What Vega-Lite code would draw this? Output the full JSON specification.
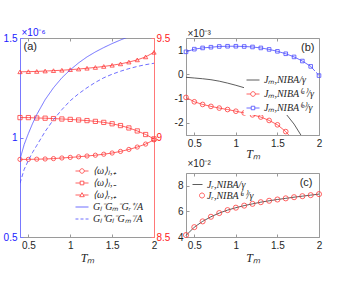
{
  "$schema": "https://vega.github.io/schema/vega-lite/v6.json",
  "padding": {"left": 2, "top": 26, "right": 2, "bottom": 2},
  "background": "white",
  "config": {
    "font": "Liberation Sans",
    "view": {"stroke": "#9a9a9a", "strokeWidth": 1},
    "axis": {"grid": false, "domainColor": "#9a9a9a", "domainWidth": 1, "tickColor": "#9a9a9a", "tickSize": -3, "tickWidth": 1,
      "labelColor": "#262626", "labelFont": "Liberation Sans", "labelFontSize": 10, "labelPadding": 6, "labelFlush": false,
      "titleFont": "Liberation Serif", "titleFontStyle": "italic", "titleFontWeight": "normal", "titleFontSize": 12, "titleColor": "#262626", "titlePadding": 2},
    "legend": {"labelFont": "Liberation Serif", "labelFontStyle": "italic", "labelFontSize": 10, "labelColor": "#262626", "padding": 0, "labelOffset": 4}
  },
  "datasets": {
    "aRed": [
      {"T":0.4,"v":8.890,"s":"⟨ω⟩ₗ,₊"},{"T":0.5,"v":8.890,"s":"⟨ω⟩ₗ,₊"},{"T":0.6,"v":8.891,"s":"⟨ω⟩ₗ,₊"},{"T":0.7,"v":8.892,"s":"⟨ω⟩ₗ,₊"},{"T":0.8,"v":8.894,"s":"⟨ω⟩ₗ,₊"},{"T":0.9,"v":8.897,"s":"⟨ω⟩ₗ,₊"},{"T":1.0,"v":8.900,"s":"⟨ω⟩ₗ,₊"},{"T":1.1,"v":8.903,"s":"⟨ω⟩ₗ,₊"},{"T":1.2,"v":8.907,"s":"⟨ω⟩ₗ,₊"},{"T":1.3,"v":8.911,"s":"⟨ω⟩ₗ,₊"},{"T":1.4,"v":8.916,"s":"⟨ω⟩ₗ,₊"},{"T":1.5,"v":8.922,"s":"⟨ω⟩ₗ,₊"},{"T":1.6,"v":8.930,"s":"⟨ω⟩ₗ,₊"},{"T":1.7,"v":8.940,"s":"⟨ω⟩ₗ,₊"},{"T":1.8,"v":8.952,"s":"⟨ω⟩ₗ,₊"},{"T":1.9,"v":8.967,"s":"⟨ω⟩ₗ,₊"},{"T":2.0,"v":8.988,"s":"⟨ω⟩ₗ,₊"},
      {"T":0.4,"v":9.100,"s":"⟨ω⟩ₗ,₋"},{"T":0.5,"v":9.100,"s":"⟨ω⟩ₗ,₋"},{"T":0.6,"v":9.098,"s":"⟨ω⟩ₗ,₋"},{"T":0.7,"v":9.097,"s":"⟨ω⟩ₗ,₋"},{"T":0.8,"v":9.095,"s":"⟨ω⟩ₗ,₋"},{"T":0.9,"v":9.093,"s":"⟨ω⟩ₗ,₋"},{"T":1.0,"v":9.091,"s":"⟨ω⟩ₗ,₋"},{"T":1.1,"v":9.088,"s":"⟨ω⟩ₗ,₋"},{"T":1.2,"v":9.085,"s":"⟨ω⟩ₗ,₋"},{"T":1.3,"v":9.081,"s":"⟨ω⟩ₗ,₋"},{"T":1.4,"v":9.076,"s":"⟨ω⟩ₗ,₋"},{"T":1.5,"v":9.069,"s":"⟨ω⟩ₗ,₋"},{"T":1.6,"v":9.060,"s":"⟨ω⟩ₗ,₋"},{"T":1.7,"v":9.048,"s":"⟨ω⟩ₗ,₋"},{"T":1.8,"v":9.033,"s":"⟨ω⟩ₗ,₋"},{"T":1.9,"v":9.015,"s":"⟨ω⟩ₗ,₋"},{"T":2.0,"v":8.993,"s":"⟨ω⟩ₗ,₋"},
      {"T":0.4,"v":9.330,"s":"⟨ω⟩ᵣ,₊"},{"T":0.5,"v":9.331,"s":"⟨ω⟩ᵣ,₊"},{"T":0.6,"v":9.332,"s":"⟨ω⟩ᵣ,₊"},{"T":0.7,"v":9.334,"s":"⟨ω⟩ᵣ,₊"},{"T":0.8,"v":9.336,"s":"⟨ω⟩ᵣ,₊"},{"T":0.9,"v":9.338,"s":"⟨ω⟩ᵣ,₊"},{"T":1.0,"v":9.341,"s":"⟨ω⟩ᵣ,₊"},{"T":1.1,"v":9.344,"s":"⟨ω⟩ᵣ,₊"},{"T":1.2,"v":9.348,"s":"⟨ω⟩ᵣ,₊"},{"T":1.3,"v":9.352,"s":"⟨ω⟩ᵣ,₊"},{"T":1.4,"v":9.357,"s":"⟨ω⟩ᵣ,₊"},{"T":1.5,"v":9.363,"s":"⟨ω⟩ᵣ,₊"},{"T":1.6,"v":9.370,"s":"⟨ω⟩ᵣ,₊"},{"T":1.7,"v":9.379,"s":"⟨ω⟩ᵣ,₊"},{"T":1.8,"v":9.390,"s":"⟨ω⟩ᵣ,₊"},{"T":1.9,"v":9.405,"s":"⟨ω⟩ᵣ,₊"},{"T":2.0,"v":9.428,"s":"⟨ω⟩ᵣ,₊"}
    ],
    "aBlue": [
      {"T":0.4,"v":0.89,"s":"Gₗ⁻Gₘ⁻Gᵣ⁺/A"},{"T":0.45,"v":0.965,"s":"Gₗ⁻Gₘ⁻Gᵣ⁺/A"},{"T":0.5,"v":1.02,"s":"Gₗ⁻Gₘ⁻Gᵣ⁺/A"},{"T":0.55,"v":1.07,"s":"Gₗ⁻Gₘ⁻Gᵣ⁺/A"},{"T":0.6,"v":1.115,"s":"Gₗ⁻Gₘ⁻Gᵣ⁺/A"},{"T":0.7,"v":1.19,"s":"Gₗ⁻Gₘ⁻Gᵣ⁺/A"},{"T":0.8,"v":1.25,"s":"Gₗ⁻Gₘ⁻Gᵣ⁺/A"},{"T":0.9,"v":1.30,"s":"Gₗ⁻Gₘ⁻Gᵣ⁺/A"},{"T":1.0,"v":1.34,"s":"Gₗ⁻Gₘ⁻Gᵣ⁺/A"},{"T":1.1,"v":1.375,"s":"Gₗ⁻Gₘ⁻Gᵣ⁺/A"},{"T":1.2,"v":1.405,"s":"Gₗ⁻Gₘ⁻Gᵣ⁺/A"},{"T":1.3,"v":1.43,"s":"Gₗ⁻Gₘ⁻Gᵣ⁺/A"},{"T":1.4,"v":1.452,"s":"Gₗ⁻Gₘ⁻Gᵣ⁺/A"},{"T":1.5,"v":1.472,"s":"Gₗ⁻Gₘ⁻Gᵣ⁺/A"},{"T":1.6,"v":1.49,"s":"Gₗ⁻Gₘ⁻Gᵣ⁺/A"},{"T":1.7,"v":1.507,"s":"Gₗ⁻Gₘ⁻Gᵣ⁺/A"},{"T":1.8,"v":1.522,"s":"Gₗ⁻Gₘ⁻Gᵣ⁺/A"},{"T":1.9,"v":1.536,"s":"Gₗ⁻Gₘ⁻Gᵣ⁺/A"},{"T":2.0,"v":1.548,"s":"Gₗ⁻Gₘ⁻Gᵣ⁺/A"},
      {"T":0.4,"v":0.77,"s":"Gₗ⁺Gₗ⁻Gₘ⁻/A"},{"T":0.45,"v":0.84,"s":"Gₗ⁺Gₗ⁻Gₘ⁻/A"},{"T":0.5,"v":0.885,"s":"Gₗ⁺Gₗ⁻Gₘ⁻/A"},{"T":0.55,"v":0.925,"s":"Gₗ⁺Gₗ⁻Gₘ⁻/A"},{"T":0.6,"v":0.96,"s":"Gₗ⁺Gₗ⁻Gₘ⁻/A"},{"T":0.7,"v":1.03,"s":"Gₗ⁺Gₗ⁻Gₘ⁻/A"},{"T":0.8,"v":1.09,"s":"Gₗ⁺Gₗ⁻Gₘ⁻/A"},{"T":0.9,"v":1.14,"s":"Gₗ⁺Gₗ⁻Gₘ⁻/A"},{"T":1.0,"v":1.185,"s":"Gₗ⁺Gₗ⁻Gₘ⁻/A"},{"T":1.1,"v":1.22,"s":"Gₗ⁺Gₗ⁻Gₘ⁻/A"},{"T":1.2,"v":1.25,"s":"Gₗ⁺Gₗ⁻Gₘ⁻/A"},{"T":1.3,"v":1.277,"s":"Gₗ⁺Gₗ⁻Gₘ⁻/A"},{"T":1.4,"v":1.30,"s":"Gₗ⁺Gₗ⁻Gₘ⁻/A"},{"T":1.5,"v":1.318,"s":"Gₗ⁺Gₗ⁻Gₘ⁻/A"},{"T":1.6,"v":1.333,"s":"Gₗ⁺Gₗ⁻Gₘ⁻/A"},{"T":1.7,"v":1.346,"s":"Gₗ⁺Gₗ⁻Gₘ⁻/A"},{"T":1.8,"v":1.357,"s":"Gₗ⁺Gₗ⁻Gₘ⁻/A"},{"T":1.9,"v":1.366,"s":"Gₗ⁺Gₗ⁻Gₘ⁻/A"},{"T":2.0,"v":1.373,"s":"Gₗ⁺Gₗ⁻Gₘ⁻/A"}
    ],
    "b": [
      {"T":0.4,"v":-0.12,"s":"Jₘ,NIBA/γ"},{"T":0.5,"v":-0.15,"s":"Jₘ,NIBA/γ"},{"T":0.6,"v":-0.18,"s":"Jₘ,NIBA/γ"},{"T":0.7,"v":-0.22,"s":"Jₘ,NIBA/γ"},{"T":0.8,"v":-0.28,"s":"Jₘ,NIBA/γ"},{"T":0.9,"v":-0.36,"s":"Jₘ,NIBA/γ"},{"T":1.0,"v":-0.45,"s":"Jₘ,NIBA/γ"},{"T":1.1,"v":-0.55,"s":"Jₘ,NIBA/γ"},{"T":1.2,"v":-0.68,"s":"Jₘ,NIBA/γ"},{"T":1.3,"v":-0.84,"s":"Jₘ,NIBA/γ"},{"T":1.4,"v":-1.04,"s":"Jₘ,NIBA/γ"},{"T":1.5,"v":-1.3,"s":"Jₘ,NIBA/γ"},{"T":1.6,"v":-1.62,"s":"Jₘ,NIBA/γ"},{"T":1.7,"v":-2.05,"s":"Jₘ,NIBA/γ"},{"T":1.8,"v":-2.6,"s":"Jₘ,NIBA/γ"},
      {"T":0.4,"v":-0.95,"s":"Jₘ,NIBA⁽ᵃ⁾/γ"},{"T":0.5,"v":-1.13,"s":"Jₘ,NIBA⁽ᵃ⁾/γ"},{"T":0.6,"v":-1.24,"s":"Jₘ,NIBA⁽ᵃ⁾/γ"},{"T":0.7,"v":-1.32,"s":"Jₘ,NIBA⁽ᵃ⁾/γ"},{"T":0.8,"v":-1.39,"s":"Jₘ,NIBA⁽ᵃ⁾/γ"},{"T":0.9,"v":-1.45,"s":"Jₘ,NIBA⁽ᵃ⁾/γ"},{"T":1.0,"v":-1.52,"s":"Jₘ,NIBA⁽ᵃ⁾/γ"},{"T":1.1,"v":-1.59,"s":"Jₘ,NIBA⁽ᵃ⁾/γ"},{"T":1.2,"v":-1.67,"s":"Jₘ,NIBA⁽ᵃ⁾/γ"},{"T":1.3,"v":-1.76,"s":"Jₘ,NIBA⁽ᵃ⁾/γ"},{"T":1.4,"v":-1.9,"s":"Jₘ,NIBA⁽ᵃ⁾/γ"},{"T":1.5,"v":-2.08,"s":"Jₘ,NIBA⁽ᵃ⁾/γ"},{"T":1.6,"v":-2.36,"s":"Jₘ,NIBA⁽ᵃ⁾/γ"},{"T":1.7,"v":-2.75,"s":"Jₘ,NIBA⁽ᵃ⁾/γ"},
      {"T":0.4,"v":0.93,"s":"Jₘ,NIBA⁽ᵇ⁾/γ"},{"T":0.5,"v":1.04,"s":"Jₘ,NIBA⁽ᵇ⁾/γ"},{"T":0.6,"v":1.09,"s":"Jₘ,NIBA⁽ᵇ⁾/γ"},{"T":0.7,"v":1.12,"s":"Jₘ,NIBA⁽ᵇ⁾/γ"},{"T":0.8,"v":1.15,"s":"Jₘ,NIBA⁽ᵇ⁾/γ"},{"T":0.9,"v":1.16,"s":"Jₘ,NIBA⁽ᵇ⁾/γ"},{"T":1.0,"v":1.16,"s":"Jₘ,NIBA⁽ᵇ⁾/γ"},{"T":1.1,"v":1.15,"s":"Jₘ,NIBA⁽ᵇ⁾/γ"},{"T":1.2,"v":1.13,"s":"Jₘ,NIBA⁽ᵇ⁾/γ"},{"T":1.3,"v":1.09,"s":"Jₘ,NIBA⁽ᵇ⁾/γ"},{"T":1.4,"v":1.03,"s":"Jₘ,NIBA⁽ᵇ⁾/γ"},{"T":1.5,"v":0.95,"s":"Jₘ,NIBA⁽ᵇ⁾/γ"},{"T":1.6,"v":0.85,"s":"Jₘ,NIBA⁽ᵇ⁾/γ"},{"T":1.7,"v":0.72,"s":"Jₘ,NIBA⁽ᵇ⁾/γ"},{"T":1.8,"v":0.55,"s":"Jₘ,NIBA⁽ᵇ⁾/γ"},{"T":1.9,"v":0.33,"s":"Jₘ,NIBA⁽ᵇ⁾/γ"},{"T":2.0,"v":-0.05,"s":"Jₘ,NIBA⁽ᵇ⁾/γ"}
    ],
    "c": [
      {"T":0.4,"v":4.12,"s":"Jᵣ,NIBA/γ"},{"T":0.5,"v":4.77,"s":"Jᵣ,NIBA/γ"},{"T":0.6,"v":5.22,"s":"Jᵣ,NIBA/γ"},{"T":0.7,"v":5.58,"s":"Jᵣ,NIBA/γ"},{"T":0.8,"v":5.87,"s":"Jᵣ,NIBA/γ"},{"T":0.9,"v":6.10,"s":"Jᵣ,NIBA/γ"},{"T":1.0,"v":6.29,"s":"Jᵣ,NIBA/γ"},{"T":1.1,"v":6.45,"s":"Jᵣ,NIBA/γ"},{"T":1.2,"v":6.59,"s":"Jᵣ,NIBA/γ"},{"T":1.3,"v":6.72,"s":"Jᵣ,NIBA/γ"},{"T":1.4,"v":6.83,"s":"Jᵣ,NIBA/γ"},{"T":1.5,"v":6.93,"s":"Jᵣ,NIBA/γ"},{"T":1.6,"v":7.02,"s":"Jᵣ,NIBA/γ"},{"T":1.7,"v":7.11,"s":"Jᵣ,NIBA/γ"},{"T":1.8,"v":7.19,"s":"Jᵣ,NIBA/γ"},{"T":1.9,"v":7.27,"s":"Jᵣ,NIBA/γ"},{"T":2.0,"v":7.35,"s":"Jᵣ,NIBA/γ"},
      {"T":0.4,"v":4.15,"s":"Jᵣ,NIBA⁽ᵃ⁾/γ"},{"T":0.5,"v":4.77,"s":"Jᵣ,NIBA⁽ᵃ⁾/γ"},{"T":0.6,"v":5.22,"s":"Jᵣ,NIBA⁽ᵃ⁾/γ"},{"T":0.7,"v":5.58,"s":"Jᵣ,NIBA⁽ᵃ⁾/γ"},{"T":0.8,"v":5.87,"s":"Jᵣ,NIBA⁽ᵃ⁾/γ"},{"T":0.9,"v":6.10,"s":"Jᵣ,NIBA⁽ᵃ⁾/γ"},{"T":1.0,"v":6.29,"s":"Jᵣ,NIBA⁽ᵃ⁾/γ"},{"T":1.1,"v":6.45,"s":"Jᵣ,NIBA⁽ᵃ⁾/γ"},{"T":1.2,"v":6.59,"s":"Jᵣ,NIBA⁽ᵃ⁾/γ"},{"T":1.3,"v":6.72,"s":"Jᵣ,NIBA⁽ᵃ⁾/γ"},{"T":1.4,"v":6.83,"s":"Jᵣ,NIBA⁽ᵃ⁾/γ"},{"T":1.5,"v":6.93,"s":"Jᵣ,NIBA⁽ᵃ⁾/γ"},{"T":1.6,"v":7.02,"s":"Jᵣ,NIBA⁽ᵃ⁾/γ"},{"T":1.7,"v":7.11,"s":"Jᵣ,NIBA⁽ᵃ⁾/γ"},{"T":1.8,"v":7.19,"s":"Jᵣ,NIBA⁽ᵃ⁾/γ"},{"T":1.9,"v":7.27,"s":"Jᵣ,NIBA⁽ᵃ⁾/γ"},{"T":2.0,"v":7.35,"s":"Jᵣ,NIBA⁽ᵃ⁾/γ"}
    ]
  },
  "bounds": "flush",
  "spacing": 32,
  "resolve": {"scale": {"x": "independent", "y": "independent", "color": "independent", "shape": "independent", "strokeDash": "independent"}},
  "hconcat": [
    {
      "width": 134,
      "height": 199,
      "encoding": {
        "x": {"field": "T", "type": "quantitative", "scale": {"domain": [0.4, 2], "nice": false, "zero": false},
          "axis": {"values": [0.5, 1, 1.5, 2], "format": "~g", "title": "Tₘ"}}
      },
      "layer": [
        {
          "data": {"name": "aRed"},
          "encoding": {
            "y": {"field": "v", "type": "quantitative", "scale": {"domain": [8.5, 9.5], "nice": false, "zero": false},
              "axis": {"orient": "right", "values": [8.5, 9, 9.5], "format": "~g", "title": null, "labelColor": "#ff2020", "domainColor": "#ff7878", "tickColor": "#ff7878", "labelPadding": 5}}
          },
          "layer": [
            {
              "mark": {"type": "line", "strokeWidth": 0.8},
              "encoding": {
                "color": {"field": "s", "type": "nominal",
                  "scale": {"domain": ["⟨ω⟩ₗ,₊", "⟨ω⟩ₗ,₋", "⟨ω⟩ᵣ,₊", "Gₗ⁻Gₘ⁻Gᵣ⁺/A", "Gₗ⁺Gₗ⁻Gₘ⁻/A"], "range": ["#ff3b3b", "#ff3b3b", "#ff3b3b", "#4a4aff", "#4a4aff"]},
                  "legend": {"orient": "none", "legendX": 55, "legendY": 126, "title": null, "symbolSize": 169, "rowPadding": 0,
                    "encode": {"symbols": {"update": {
                      "shape": {"signal": "['M-1,0H-0.35M0.35,0H1M-0.35,0A0.35,0.35 0 1 1 0.35,0A0.35,0.35 0 1 1 -0.35,0','M-1,0H-0.28M0.28,0H1M-0.28,-0.28H0.28V0.28H-0.28Z','M-1,0H-0.2M0.2,0H1M0,-0.36L0.35,0.26L-0.35,0.26Z','M-1,0H1','M-1,0H-0.55M-0.23,0H0.23M0.55,0H1'][indexof(['⟨ω⟩ₗ,₊','⟨ω⟩ₗ,₋','⟨ω⟩ᵣ,₊','Gₗ⁻Gₘ⁻Gᵣ⁺/A','Gₗ⁺Gₗ⁻Gₘ⁻/A'], datum.value)]"},
                      "fill": {"value": "transparent"},
                      "strokeWidth": {"value": 0.8},
                      "opacity": {"value": 1}
                    }}}}
                }
              }
            },
            {
              "mark": {"type": "point", "filled": false, "strokeWidth": 0.8, "size": 18, "opacity": 1},
              "encoding": {
                "color": {"field": "s", "type": "nominal",
                  "scale": {"domain": ["⟨ω⟩ₗ,₊", "⟨ω⟩ₗ,₋", "⟨ω⟩ᵣ,₊", "Gₗ⁻Gₘ⁻Gᵣ⁺/A", "Gₗ⁺Gₗ⁻Gₘ⁻/A"], "range": ["#ff3b3b", "#ff3b3b", "#ff3b3b", "#4a4aff", "#4a4aff"]}, "legend": null},
                "shape": {"field": "s", "type": "nominal", "scale": {"domain": ["⟨ω⟩ₗ,₊", "⟨ω⟩ₗ,₋", "⟨ω⟩ᵣ,₊"], "range": ["circle", "square", "triangle-up"]}, "legend": null}
              }
            }
          ]
        },
        {
          "data": {"name": "aBlue"},
          "mark": {"type": "line", "strokeWidth": 0.8, "clip": true},
          "encoding": {
            "x": {"field": "T", "type": "quantitative",
              "axis": {"orient": "top", "values": [0.5, 1, 1.5, 2], "labels": false, "domain": false, "tickColor": "#9a9a9a",
                "title": "(a)", "titleX": 3, "titleY": 11, "titleAlign": "left", "titleBaseline": "alphabetic", "titleAngle": 0,
                "titleFont": "Liberation Sans", "titleFontStyle": "normal", "titleFontSize": 11, "titleColor": "#262626"}},
            "y": {"field": "v", "type": "quantitative", "scale": {"domain": [0.5, 1.5], "nice": false, "zero": false},
              "axis": {"orient": "left", "values": [0.5, 1, 1.5], "format": "~g", "labelColor": "#2020ff", "domainColor": "#7878ff", "tickColor": "#7878ff",
                "title": "×10⁻⁶", "titleAngle": 0, "titleX": 1, "titleY": -3, "titleAlign": "left", "titleBaseline": "alphabetic",
                "titleFont": "Liberation Sans", "titleFontStyle": "normal", "titleFontSize": 10, "titleColor": "#2020ff"}},
            "color": {"field": "s", "type": "nominal",
              "scale": {"domain": ["⟨ω⟩ₗ,₊", "⟨ω⟩ₗ,₋", "⟨ω⟩ᵣ,₊", "Gₗ⁻Gₘ⁻Gᵣ⁺/A", "Gₗ⁺Gₗ⁻Gₘ⁻/A"], "range": ["#ff3b3b", "#ff3b3b", "#ff3b3b", "#4a4aff", "#4a4aff"]}, "legend": null},
            "strokeDash": {"field": "s", "type": "nominal", "scale": {"domain": ["Gₗ⁻Gₘ⁻Gᵣ⁺/A", "Gₗ⁺Gₗ⁻Gₘ⁻/A"], "range": [[1, 0], [4, 2.5]]}, "legend": null}
          }
        }
      ],
      "resolve": {"scale": {"y": "independent"}, "axis": {"y": "independent", "x": "independent"}}
    },
    {
      "bounds": "flush",
      "spacing": 38,
      "resolve": {"scale": {"x": "independent", "y": "independent", "color": "independent", "shape": "independent"}},
      "vconcat": [
        {
          "width": 133,
          "height": 97,
          "data": {"name": "b"},
          "encoding": {
            "x": {"field": "T", "type": "quantitative", "scale": {"domain": [0.4, 2], "nice": false, "zero": false},
              "axis": {"values": [0.5, 1, 1.5, 2], "format": "~g", "title": "Tₘ", "titlePadding": 0}},
            "y": {"field": "v", "type": "quantitative", "scale": {"domain": [-2.5, 1.5], "nice": false, "zero": false},
              "axis": {"values": [-2, -1, 0, 1], "labelExpr": "replace(datum.label, '−', '-')",
                "title": "×10⁻³", "titleAngle": 0, "titleX": 1, "titleY": -2, "titleAlign": "left", "titleBaseline": "alphabetic",
                "titleFont": "Liberation Sans", "titleFontStyle": "normal", "titleFontSize": 10}}
          },
          "layer": [
            {
              "mark": {"type": "line", "strokeWidth": 0.8, "clip": true},
              "encoding": {
                "color": {"field": "s", "type": "nominal",
                  "scale": {"domain": ["Jₘ,NIBA/γ", "Jₘ,NIBA⁽ᵃ⁾/γ", "Jₘ,NIBA⁽ᵇ⁾/γ"], "range": ["#333333", "#ff3b3b", "#4a4aff"]},
                  "legend": {"orient": "none", "legendX": 58, "legendY": 33, "title": null, "symbolSize": 169, "rowPadding": 2, "padding": 2, "fillColor": "white",
                    "encode": {"symbols": {"update": {
                      "shape": {"signal": "['M-1,0H1','M-1,0H-0.36M0.36,0H1M-0.36,0A0.36,0.36 0 1 1 0.36,0A0.36,0.36 0 1 1 -0.36,0','M-1,0H-0.27M0.27,0H1M-0.27,-0.27H0.27V0.27H-0.27Z'][indexof(['Jₘ,NIBA/γ','Jₘ,NIBA⁽ᵃ⁾/γ','Jₘ,NIBA⁽ᵇ⁾/γ'], datum.value)]"},
                      "fill": {"value": "transparent"},
                      "strokeWidth": {"value": 0.8},
                      "opacity": {"value": 1}
                    }}}}
                }
              }
            },
            {
              "transform": [{"filter": "datum.s !== 'Jₘ,NIBA/γ' && datum.v >= -2.5"}],
              "mark": {"type": "point", "filled": false, "strokeWidth": 0.8, "opacity": 1},
              "encoding": {
                "x": {"field": "T", "type": "quantitative",
                  "axis": {"orient": "top", "values": [0.5, 1, 1.5, 2], "labels": false, "domain": false,
                    "title": "(b)", "titleX": 128, "titleY": 12, "titleAlign": "right", "titleBaseline": "alphabetic", "titleAngle": 0,
                    "titleFont": "Liberation Sans", "titleFontStyle": "normal", "titleFontSize": 11, "titleColor": "#262626"}},
                "color": {"field": "s", "type": "nominal",
                  "scale": {"domain": ["Jₘ,NIBA/γ", "Jₘ,NIBA⁽ᵃ⁾/γ", "Jₘ,NIBA⁽ᵇ⁾/γ"], "range": ["#333333", "#ff3b3b", "#4a4aff"]}, "legend": null},
                "shape": {"field": "s", "type": "nominal", "scale": {"domain": ["Jₘ,NIBA⁽ᵃ⁾/γ", "Jₘ,NIBA⁽ᵇ⁾/γ"], "range": ["circle", "square"]}, "legend": null},
                "size": {"field": "s", "type": "nominal", "scale": {"domain": ["Jₘ,NIBA⁽ᵃ⁾/γ", "Jₘ,NIBA⁽ᵇ⁾/γ"], "range": [22, 13]}, "legend": null}
              }
            }
          ],
          "resolve": {"axis": {"x": "independent"}}
        },
        {
          "width": 133,
          "height": 64,
          "data": {"name": "c"},
          "encoding": {
            "x": {"field": "T", "type": "quantitative", "scale": {"domain": [0.4, 2], "nice": false, "zero": false},
              "axis": {"values": [0.5, 1, 1.5, 2], "format": "~g", "title": "Tₘ"}},
            "y": {"field": "v", "type": "quantitative", "scale": {"domain": [4, 9], "nice": false, "zero": false},
              "axis": {"values": [4, 6, 8], "format": "~g",
                "title": "×10⁻²", "titleAngle": 0, "titleX": 1, "titleY": -7, "titleAlign": "left", "titleBaseline": "alphabetic",
                "titleFont": "Liberation Sans", "titleFontStyle": "normal", "titleFontSize": 10}}
          },
          "layer": [
            {
              "transform": [{"filter": "datum.s === 'Jᵣ,NIBA/γ'"}],
              "mark": {"type": "line", "strokeWidth": 0.8},
              "encoding": {
                "color": {"field": "s", "type": "nominal",
                  "scale": {"domain": ["Jᵣ,NIBA/γ", "Jᵣ,NIBA⁽ᵃ⁾/γ"], "range": ["#333333", "#ff3b3b"]},
                  "legend": {"orient": "none", "legendX": 6, "legendY": 6, "title": null, "symbolSize": 100, "rowPadding": 0,
                    "encode": {"symbols": {"update": {
                      "shape": {"signal": "['M-1,0H1','M0.4,0A0.5,0.5 0 1 1 1.4,0A0.5,0.5 0 1 1 0.4,0'][indexof(['Jᵣ,NIBA/γ','Jᵣ,NIBA⁽ᵃ⁾/γ'], datum.value)]"},
                      "fill": {"value": "transparent"},
                      "strokeWidth": {"value": 0.8},
                      "opacity": {"value": 1}
                    }}}}
                }
              }
            },
            {
              "transform": [{"filter": "datum.s === 'Jᵣ,NIBA⁽ᵃ⁾/γ'"}],
              "mark": {"type": "point", "filled": false, "strokeWidth": 0.8, "size": 26, "opacity": 1},
              "encoding": {
                "x": {"field": "T", "type": "quantitative",
                  "axis": {"orient": "top", "values": [0.5, 1, 1.5, 2], "labels": false, "domain": false,
                    "title": "(c)", "titleX": 126, "titleY": 12, "titleAlign": "right", "titleBaseline": "alphabetic", "titleAngle": 0,
                    "titleFont": "Liberation Sans", "titleFontStyle": "normal", "titleFontSize": 11, "titleColor": "#262626"}},
                "color": {"field": "s", "type": "nominal",
                  "scale": {"domain": ["Jᵣ,NIBA/γ", "Jᵣ,NIBA⁽ᵃ⁾/γ"], "range": ["#333333", "#ff3b3b"]}, "legend": null}
              }
            }
          ],
          "resolve": {"axis": {"x": "independent"}}
        }
      ]
    }
  ]
}
